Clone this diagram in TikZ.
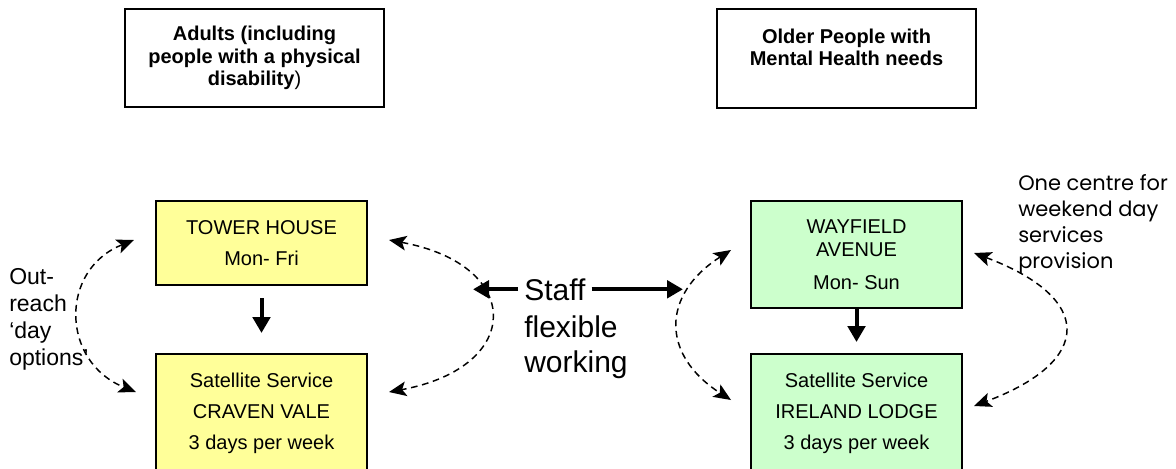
\documentclass[tikz,border=0pt]{standalone}
\usepackage{fontspec}
\setmainfont{Liberation Sans}
\newfontfamily\gothicfont{Poppins}
\usetikzlibrary{arrows.meta,calc}
\definecolor{boxyellow}{HTML}{FFFF99}
\definecolor{boxgreen}{HTML}{CCFFCC}
\begin{document}
\begin{tikzpicture}[x=0.75pt,y=-0.75pt,
    every node/.append style={inner sep=0pt},
    groupbox/.style={draw,line width=1.5pt,minimum width=194.25pt,align=center,
      font=\bfseries\fontsize{15}{17}\selectfont},
    centrebox/.style={draw,line width=1.5pt,minimum width=158.25pt,align=center,
      font=\fontsize{15}{17.25}\selectfont},
    flowarrow/.style={line width=3pt,-{Triangle[length=12pt,width=13pt]}},
    swaparrow/.style={line width=1.1pt,dash pattern=on 5pt off 3.5pt,
      {Stealth[length=13pt,width=11pt,inset=3pt]}-{Stealth[length=13pt,width=11pt,inset=3pt]}}]
    \useasboundingbox (0,0) rectangle (1176,468);
    % client groups
    \node[groupbox,minimum height=73.5pt] (adults) at (254.5,58)
      {Adults (including\\people with a physical\\disability\textmd{)}};
    \node[groupbox,minimum height=74.25pt] (older) at (846.5,58.5)
      {Older People with\\Mental Health needs\\\mbox{}};
    % day centres
    \node[centrebox,fill=boxyellow,minimum height=63pt] (tower) at (261.5,243)
      {TOWER HOUSE\\[6pt]Mon- Fri};
    \node[centrebox,fill=boxyellow,minimum height=88.5pt] (craven) at (261.5,413)
      {Satellite Service\\[6pt]CRAVEN VALE\\[6pt]3 days per week};
    \node[centrebox,fill=boxgreen,minimum height=80.25pt] (wayfield) at (856.5,254.5)
      {WAYFIELD\\AVENUE\\[7.5pt]Mon- Sun};
    \node[centrebox,fill=boxgreen,minimum height=88.5pt] (ireland) at (856.5,413)
      {Satellite Service\\[6pt]IRELAND LODGE\\[6pt]3 days per week};
    % side notes
    \node[anchor=north west,align=left,font=\fontsize{17.25}{20.25}\selectfont]
      (outreach) at (9,268) {Out-\\reach\\‘day\\options’};
    \node[anchor=base west,inner xsep=4.5pt,font=\fontsize{22.5}{26.25}\selectfont]
      (staff) at (518,300) {Staff};
    \node[anchor=north west,align=left,font=\fontsize{22.5}{26.25}\selectfont]
      (flexible) at (524,315) {flexible\\working};
    \node[anchor=north west,align=left,font=\gothicfont\fontsize{15.7}{19.5}\selectfont]
      (weekend) at (1018,174) {One centre for\\weekend day\\services\\provision};
    % arrows
    \coordinate (leftcurve) at (473,287);
    \coordinate (rightcurve) at (683,285);
    \draw[flowarrow,shorten <=9pt,shorten >=15pt] (tower) -- (craven);
    \draw[flowarrow,shorten >=8.25pt] (wayfield) -- (ireland);
    \draw[flowarrow] (staff.west) -- (staff.west -| leftcurve);
    \draw[flowarrow] (staff.east) -- (staff.east -| rightcurve);
    \draw[swaparrow] ($(tower.west)+(-21,-3)$) .. controls +(-75,30) and +(-75,-30)
      .. ($(craven.west)+(-19,-21)$);
    \draw[swaparrow] ($(tower.east)+(21,-3)$) .. controls +(135,25) and +(135,-25)
      .. ($(craven.east)+(21,-21)$);
    \draw[swaparrow] ($(wayfield.west)+(-19,-4.5)$) .. controls +(-70,45) and +(-70,-45)
      .. ($(ireland.west)+(-19,-13)$);
    \draw[swaparrow] ($(wayfield.east)+(11,-1.5)$) .. controls +(120,45) and +(120,-45)
      .. ($(ireland.east)+(11,-7)$);
\end{tikzpicture}
\end{document}
